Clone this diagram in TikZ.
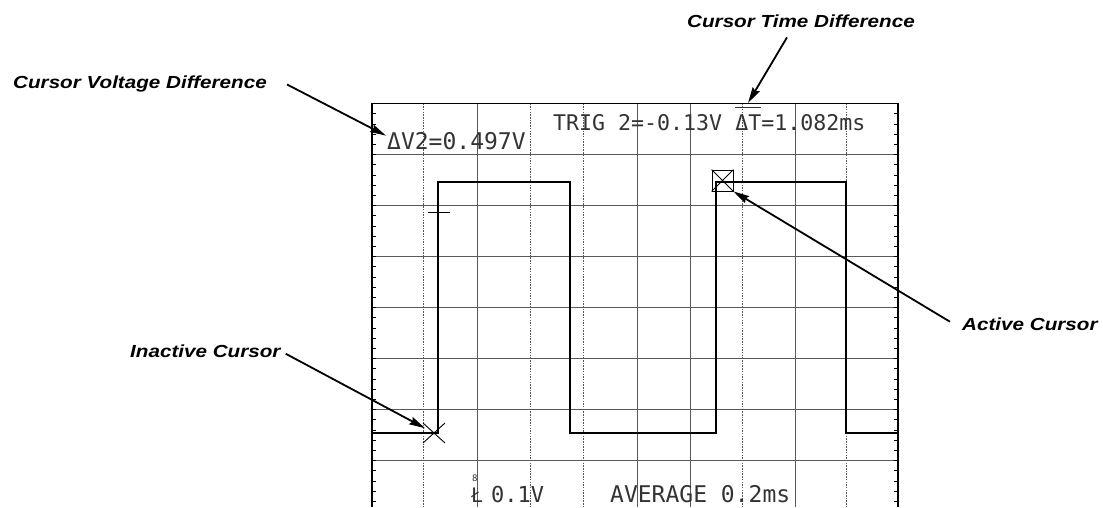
\documentclass[tikz,border=0pt]{standalone}
\usepackage{fontspec}
\usetikzlibrary{arrows.meta,calc}
\newfontfamily\labfont[FakeStretch=1.18]{Liberation Sans}
\newfontfamily\scrfont{DejaVu Sans Mono}
\tikzset{
  border/.style={line width=1.6pt, black},
  gsolid/.style={line width=0.7pt, black!65},
  gdot/.style={line width=0.7pt, black!65, dash pattern=on 1.5pt off 1.2pt},
  wave/.style={line width=1.6pt, black},
  arr/.style={line width=1.8pt, -{Stealth[length=16pt,width=8pt,inset=2pt]}},
  lab/.style={font=\labfont\bfseries\itshape\fontsize{17.5}{20}\selectfont, inner sep=0pt, anchor=base west},
  scr/.style={font=\scrfont\fontsize{22}{24}\selectfont, text=black!80, inner sep=0pt, anchor=base west},
}
\begin{document}
\begin{tikzpicture}[x=1pt,y=-1pt]
\useasboundingbox (0,0) rectangle (1103,507);
% grid
\foreach \x in {477,637,690,795} \draw[gsolid] (\x,103.5) -- (\x,507);
\foreach \x in {423,530,583,742,846} \draw[gdot] (\x,103.5) -- (\x,507);
\foreach \y in {154.5,205.5,256.5,307.5,358.5,409.5,460.5} \draw[gsolid] (372,\y) -- (898,\y);
% minor ticks on borders
\foreach \k in {1,...,39} {
  \draw[line width=0.6pt] (372,103.5+10.2*\k) -- (376,103.5+10.2*\k);
  \draw[line width=0.6pt] (894,103.5+10.2*\k) -- (898,103.5+10.2*\k);
}
% screen border
\draw[border] (372,507) -- (372,103.5) -- (898,103.5) -- (898,507);
% trigger level marker
\draw[line width=0.8pt] (428,212) -- (450,212);
% waveform
\draw[wave] (372,433) -- (438,433) -- (438,182) -- (570,182) -- (570,433) -- (716,433) -- (716,182) -- (846,182) -- (846,433) -- (898,433);
% cursors
\node[draw, line width=0.8pt, minimum size=21pt, inner sep=0pt] (abox) at (722.5,180.5) {};
\draw[line width=0.8pt] (abox.north west) -- (abox.south east) (abox.north east) -- (abox.south west);
\node[circle, minimum size=20pt, inner sep=0pt] (ix) at (434,433) {};
\draw[line width=0.9pt] ($(ix)+(-11,-10)$) -- ($(ix)+(11,10)$) ($(ix)+(11,-10)$) -- ($(ix)+(-11,10)$);
% screen texts
\node[scr, font=\scrfont\fontsize{23}{25}\selectfont] (dv) at (387,149) {ΔV2=0.497V};
\node[scr, font=\scrfont\fontsize{21.6}{24}\selectfont] (trig) at (553,130) {TRIG 2=-0.13V {\rlap{\rule[1.0em]{1.2em}{0.07em}}ΔT}=1.082ms};
\node[scr, font=\scrfont\fontsize{9}{10}\selectfont] (ch) at (472,481) {8};
\node[scr, font=\scrfont\fontsize{20}{22}\selectfont] (cpl) at (471,502) {Ł};
\node[scr, font=\scrfont\fontsize{22}{24}\selectfont] (volt) at (491,502) {0.1V};
\node[scr, font=\scrfont\fontsize{23}{25}\selectfont] (avg) at (610,502) {AVERAGE 0.2ms};
\coordinate (dtmark) at (748,103);
% labels
\node[lab] (tlab) at (687,27) {Cursor Time Difference};
\node[lab] (vlab) at (13,88) {Cursor Voltage Difference};
\node[lab] (ilab) at (130,357) {Inactive Cursor};
\node[lab] (alab) at (962,330) {Active Cursor};
% arrows
\draw[arr] ($(tlab.south)+(-14,10)$) -- (dtmark);
\draw[arr] ($(vlab.east)+(20,1)$) -- ($(dv.west)+(-1,-5)$);
\draw[arr] ($(ilab.east)+(5,3)$) -- (ix);
\draw[arr] ($(alab.west)+(-12,-2)$) -- (abox.south east);
\end{tikzpicture}
\end{document}
